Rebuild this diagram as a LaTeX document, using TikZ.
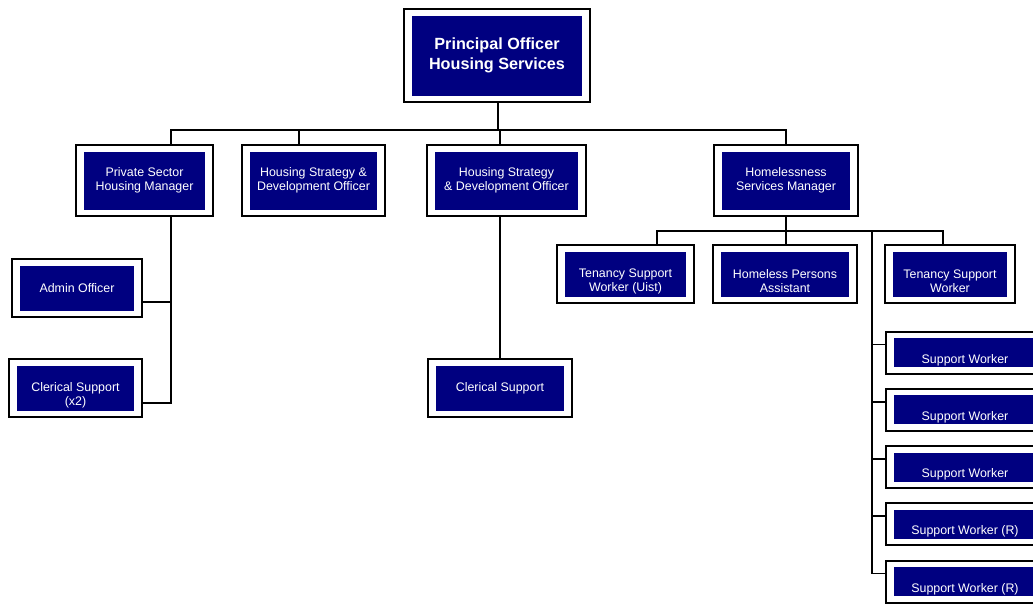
\documentclass[tikz,border=0pt]{standalone}
\usepackage{fontspec}
\setmainfont{Liberation Sans}
\definecolor{boxnavy}{RGB}{0,0,128}
\tikzset{
	orgbox/.style 2 args={draw=black, line width=2pt, fill=white, inner sep=0pt,
		minimum width=#1, minimum height=#2,
		path picture={\fill[boxnavy] ([shift={(8pt,-6.5pt)}]path picture bounding box.north west)
			rectangle ([shift={(-8pt,6.5pt)}]path picture bounding box.south east);}},
	boxtext/.style={text=white, align=center, font=\fontsize{12.4}{14}\selectfont},
	headtext/.style={text=white, align=center, font=\fontsize{16.2}{20}\selectfont\bfseries},
	tie/.style={draw=black, line width=1.6pt}
}
\begin{document}
\begin{tikzpicture}[x=1pt, y=-1pt]
	\useasboundingbox (0,0) rectangle (1033,603);
	\clip (0,0) rectangle (1033,603);
	% top
	\node (head) at (497, 55.5)	[orgbox={186}{93}, label={[headtext]center:{Principal Officer\\Housing Services}}]	{};
	% second row
	\node (pshm) at (144.5, 180.5)	[orgbox={137}{71}, label={[boxtext]center:{Private Sector\\Housing Manager}}]	{};
	\node (hsdoA) at (313.5, 180.5)	[orgbox={143}{71}, label={[boxtext]center:{Housing Strategy \&\\Development Officer}}]	{};
	\node (hsdoB) at (506.5, 180.5)	[orgbox={159}{71}, label={[boxtext]center:{Housing Strategy\\\& Development Officer}}]	{};
	\node (hsm) at (786, 180.5)	[orgbox={144}{71}, label={[boxtext]center:{Homelessness\\Services Manager}}]	{};
	% left branch
	\node (admin) at (77, 288)	[orgbox={130}{58}, label={[boxtext]center:{Admin Officer}}]	{};
	\node (clerkA) at (75.5, 388)	[orgbox={133}{58}, label={[boxtext, yshift=-7pt]center:{Clerical Support\\(x2)}}]	{};
	% middle branch
	\node (clerkB) at (500, 388)	[orgbox={144}{58}, label={[boxtext]center:{Clerical Support}}]	{};
	% homelessness branch
	\node (uist) at (625.5, 274)	[orgbox={137}{58}, label={[boxtext, yshift=-7.5pt]center:{Tenancy Support\\Worker (Uist)}}]	{};
	\node (hpa) at (785, 274)	[orgbox={144}{58}, label={[boxtext, yshift=-7.5pt]center:{Homeless Persons\\Assistant}}]	{};
	\node (tsw) at (950, 274)	[orgbox={130}{58}, label={[boxtext, yshift=-7.5pt]center:{Tenancy Support\\Worker}}]	{};
	\foreach \i/\job in {1/Support Worker, 2/Support Worker, 3/Support Worker, 4/Support Worker (R), 5/Support Worker (R)}
		\node (sw\i) at (965, 295.25+57.25*\i)	[orgbox={158}{42}, label={[boxtext, yshift=-7.5pt]center:{\job}}]	{};
	% ties
	\coordinate (busA) at (498, 130);
	\coordinate (busB) at (786, 231);
	\coordinate (trunk) at (872, 231);
	\draw[tie] (head.south -| busA) -- (busA);
	\draw[tie] ([xshift=26.5pt]pshm.north) |- (busA) -| (hsm.north);
	\draw[tie] ([xshift=-14.5pt]hsdoA.north) -- ++(0,-15);
	\draw[tie] ([xshift=-6.5pt]hsdoB.north) -- ++(0,-15);
	\draw[tie] ([xshift=26.5pt]pshm.south) |- ([yshift=-14pt]admin.east);
	\draw[tie] ([xshift=26.5pt]pshm.south) |- ([yshift=-15pt]clerkA.east);
	\draw[tie] ([xshift=-6.5pt]hsdoB.south) -- (clerkB);
	\draw[tie] (hsm) -- (busB);
	\draw[tie] ([xshift=31.5pt]uist.north) |- (busB) -| ([xshift=-7pt]tsw.north);
	\draw[tie] (hpa.north -| busB) -- (busB);
	\draw[tie] (trunk) |- ([yshift=8pt]sw5.west);
	\foreach \i in {1,...,4}
		\draw[tie] ([yshift=8pt]sw\i.west) -| (trunk);
\end{tikzpicture}
\end{document}
